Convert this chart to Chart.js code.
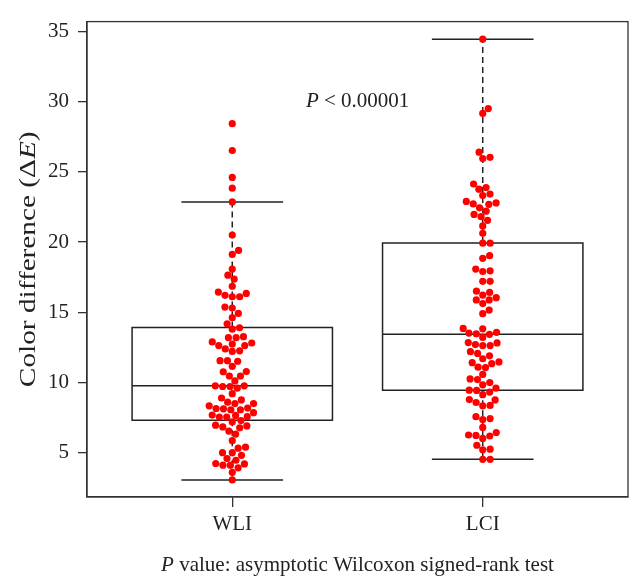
<!DOCTYPE html>
<html>
<head>
<meta charset="utf-8">
<script src="https://cdn.jsdelivr.net/npm/chart.js@4.4.1/dist/chart.umd.min.js"></script>
<style>
  html, body { margin: 0; padding: 0; background: #fff; }
  canvas { display: block; }
</style>
</head>
<body>
<canvas id="myChart" width="643" height="583"></canvas>
<script>
//Data
const categories = ['WLI', 'LCI'];
const wliValues = [28.44, 26.53, 24.61, 23.84, 22.86, 20.50,
  19.40, 19.12, 18.07, 17.64, 17.36, 16.85, 16.43, 16.20, 16.10, 16.10, 16.34, 15.36, 15.29, 14.91,
  14.61, 14.17, 13.79, 13.89, 13.25, 13.18, 13.18, 12.88, 12.62, 12.73, 12.80, 12.62, 12.38, 12.20,
  12.24, 11.54, 11.54, 11.50, 11.14, 10.75, 10.77, 10.45, 10.45, 10.10, 9.75, 9.70, 9.58, 9.70, 9.75,
  9.19, 8.88, 8.48, 8.58, 8.74, 8.48, 8.13, 8.16, 8.04, 8.04, 8.11, 8.32, 7.66, 7.64, 7.52, 7.52, 7.55,
  7.83, 7.27, 7.17, 6.94, 6.75, 6.89, 6.82, 6.52, 6.31, 5.84, 5.37, 5.30, 4.98, 4.98, 4.79, 4.56, 4.44,
  4.21, 4.09, 4.09, 3.90, 4.18, 3.58, 3.04];
const lciValues = [34.47, 29.52, 29.17, 26.41, 25.95, 26.04,
  24.14, 23.89, 23.77, 23.42, 23.32, 22.90, 22.72, 22.44, 22.69, 22.79, 22.20, 21.97, 21.81, 21.55,
  21.15, 20.62, 19.92, 19.92, 19.03, 18.84, 18.07, 17.90, 17.95, 17.20, 17.20, 16.50, 16.41, 16.22,
  16.03, 15.87, 15.87, 15.61, 15.15, 14.89, 13.84, 13.51, 13.46, 13.81, 13.20, 13.42, 13.56, 12.83,
  12.69, 12.62, 12.62, 12.81, 12.18, 12.06, 11.68, 11.89, 11.45, 11.33, 11.05, 11.08, 11.40, 10.56,
  10.24, 10.19, 9.82, 9.98, 9.58, 9.44, 9.42, 9.30, 9.12, 8.77, 8.56, 8.35, 8.32, 8.74, 7.55, 7.34,
  7.41, 6.78, 6.24, 6.21, 6.00, 6.17, 6.42, 5.51, 5.19, 5.23, 4.51, 4.51];

//Box plot summary (whisker ends, quartiles, median)
const whiskerLow = [3.04, 4.51];
const q1 = [7.29, 9.44];
const median = [9.75, 13.42];
const q3 = [13.9, 19.94];
const whiskerHigh = [22.86, 34.47];

const yTicks = [5, 10, 15, 20, 25, 30, 35];
const pText = [['P', true], [' < 0.00001', false]];
const xTitle = [['P', true], [' value: asymptotic Wilcoxon signed-rank test', false]];
const yTitle = [['Color difference (\u0394', false], ['E', true], [')', false]];

const fontFamily = '"Liberation Serif", "Times New Roman", serif';
const ink = '#222';
const boxHalf = 0.4;
const capHalf = 0.2;
const dotSize = 7.4;
const gap = {x: null, y: null};

//Box, median and caps as one solid polyline, whiskers dashed
function solidLines() {
  let pts = [];
  categories.forEach((c, i) => {
    const x = i + 1;
    pts.push({x: x - boxHalf, y: q1[i]}, {x: x + boxHalf, y: q1[i]}, {x: x + boxHalf, y: q3[i]},
      {x: x - boxHalf, y: q3[i]}, {x: x - boxHalf, y: q1[i]}, gap);
    pts.push({x: x - boxHalf, y: median[i]}, {x: x + boxHalf, y: median[i]}, gap);
    pts.push({x: x - capHalf, y: whiskerLow[i]}, {x: x + capHalf, y: whiskerLow[i]}, gap);
    pts.push({x: x - capHalf, y: whiskerHigh[i]}, {x: x + capHalf, y: whiskerHigh[i]}, gap);
  });
  return pts;
}

function whiskerLines() {
  let pts = [];
  categories.forEach((c, i) => {
    const x = i + 1;
    pts.push({x: x, y: q3[i]}, {x: x, y: whiskerHigh[i]}, gap);
    pts.push({x: x, y: q1[i]}, {x: x, y: whiskerLow[i]}, gap);
  });
  return pts;
}

//Beeswarm placement (ascending priority, nearest free spot to the centre)
function swarm(values, pxPerY) {
  const order = values.map((v, i) => i).sort((a, b) => values[a] - values[b]);
  const placed = [];
  const out = new Array(values.length);
  order.forEach(i => {
    const y = values[i] * pxPerY;
    const near = placed.filter(p => Math.abs(p.y - y) < dotSize);
    let cands = [0];
    near.forEach(p => {
      const dx = Math.sqrt(dotSize * dotSize - (p.y - y) * (p.y - y));
      cands.push(p.x + dx, p.x - dx);
    });
    cands = cands.filter(cx => near.every(p => (p.x - cx) ** 2 + (p.y - y) ** 2 >= dotSize * dotSize - 0.01));
    cands.sort((a, b) => Math.abs(a) - Math.abs(b));
    placed.push({x: cands[0], y: y});
    out[i] = cands[0];
  });
  return out;
}

function richText(ctx, parts, x, y, size, align) {
  const fontOf = it => (it ? 'italic ' : '') + size + 'px ' + fontFamily;
  let total = 0;
  parts.forEach(p => { ctx.font = fontOf(p[1]); total += ctx.measureText(p[0]).width; });
  let cx = align === 'left' ? x : x - total / 2;
  ctx.textBaseline = 'middle';
  ctx.textAlign = 'left';
  ctx.fillStyle = ink;
  parts.forEach(p => {
    ctx.font = fontOf(p[1]);
    ctx.fillText(p[0], cx, y);
    cx += ctx.measureText(p[0]).width;
  });
}

//Frame round the plot plus the three texts
const framePlugin = {
  id: 'frameAndText',
  beforeDatasetsDraw(chart) {
    const a = chart.chartArea, ctx = chart.ctx;
    ctx.save();
    ctx.strokeStyle = '#333';
    ctx.lineWidth = 1.3;
    ctx.strokeRect(a.left, a.top, a.right - a.left, a.bottom - a.top);
    ctx.restore();
  },
  afterDraw(chart) {
    const a = chart.chartArea, ctx = chart.ctx;
    const xs = chart.scales.x, ys = chart.scales.y;
    ctx.save();
    richText(ctx, pText, xs.getPixelForValue(1.294), ys.getPixelForValue(30), 21, 'left');
    richText(ctx, xTitle, (a.left + a.right) / 2, 565, 21, 'center');
    //the y title in the figure runs a bit longer than its letter height suggests
    ctx.translate(29, (a.top + a.bottom) / 2);
    ctx.rotate(-Math.PI / 2);
    ctx.scale(1.22, 1);
    richText(ctx, yTitle, 0, 0, 24, 'center');
    ctx.restore();
  }
};

const ctx = document.getElementById('myChart').getContext('2d');
const myChart = new Chart(ctx, {
  type: 'scatter',
  data: {
    datasets: [
      {label: 'WLI', data: [], pointRadius: 3.6, pointHoverRadius: 3.6, backgroundColor: '#ff0000', borderWidth: 0},
      {label: 'LCI', data: [], pointRadius: 3.6, pointHoverRadius: 3.6, backgroundColor: '#ff0000', borderWidth: 0},
      {label: 'box', data: solidLines(), showLine: true, pointRadius: 0, borderColor: ink, borderWidth: 1.5,
        borderCapStyle: 'square', borderJoinStyle: 'miter', tension: 0, spanGaps: false},
      {label: 'whisker', data: whiskerLines(), showLine: true, pointRadius: 0, borderColor: ink, borderWidth: 1.5,
        borderDash: [6, 4], tension: 0, spanGaps: false}
    ]
  },
  options: {
    responsive: false,
    animation: false,
    events: [],
    layout: {padding: {top: 14, right: 15, left: 0, bottom: 0}},
    plugins: {legend: {display: false}, tooltip: {enabled: false}},
    scales: {
      x: {
        type: 'linear', min: 0.42, max: 2.58,
        afterBuildTicks: s => { s.ticks = categories.map((c, i) => ({value: i + 1})); },
        afterFit: s => { s.height = 86; },
        ticks: {callback: (v, i) => categories[i], font: {family: fontFamily, size: 21}, color: ink,
          padding: 5, maxRotation: 0, autoSkip: false},
        grid: {display: true, drawOnChartArea: false, drawTicks: true, tickLength: 10, color: '#333', lineWidth: 1.3},
        border: {display: true, color: '#333', width: 1.3}
      },
      y: {
        min: 1.82, max: 35.72,
        afterBuildTicks: s => { s.ticks = yTicks.map(v => ({value: v})); },
        afterFit: s => { s.width = 87; },
        ticks: {font: {family: fontFamily, size: 21}, color: ink, padding: 9},
        grid: {display: true, drawOnChartArea: false, drawTicks: true, tickLength: 9, color: '#333', lineWidth: 1.3},
        border: {display: true, color: '#333', width: 1.3}
      }
    }
  },
  plugins: [framePlugin]
});

//Second pass: lay the dots out as a swarm now that the scales exist
const xs = myChart.scales.x, ys = myChart.scales.y;
const pxPerX = xs.getPixelForValue(2) - xs.getPixelForValue(1);
const pxPerY = ys.getPixelForValue(0) - ys.getPixelForValue(1);
[wliValues, lciValues].forEach((vals, i) => {
  const off = swarm(vals, pxPerY);
  myChart.data.datasets[i].data = vals.map((v, j) => ({x: i + 1 + off[j] / pxPerX, y: v}));
});
myChart.update('none');
</script>
</body>
</html>
